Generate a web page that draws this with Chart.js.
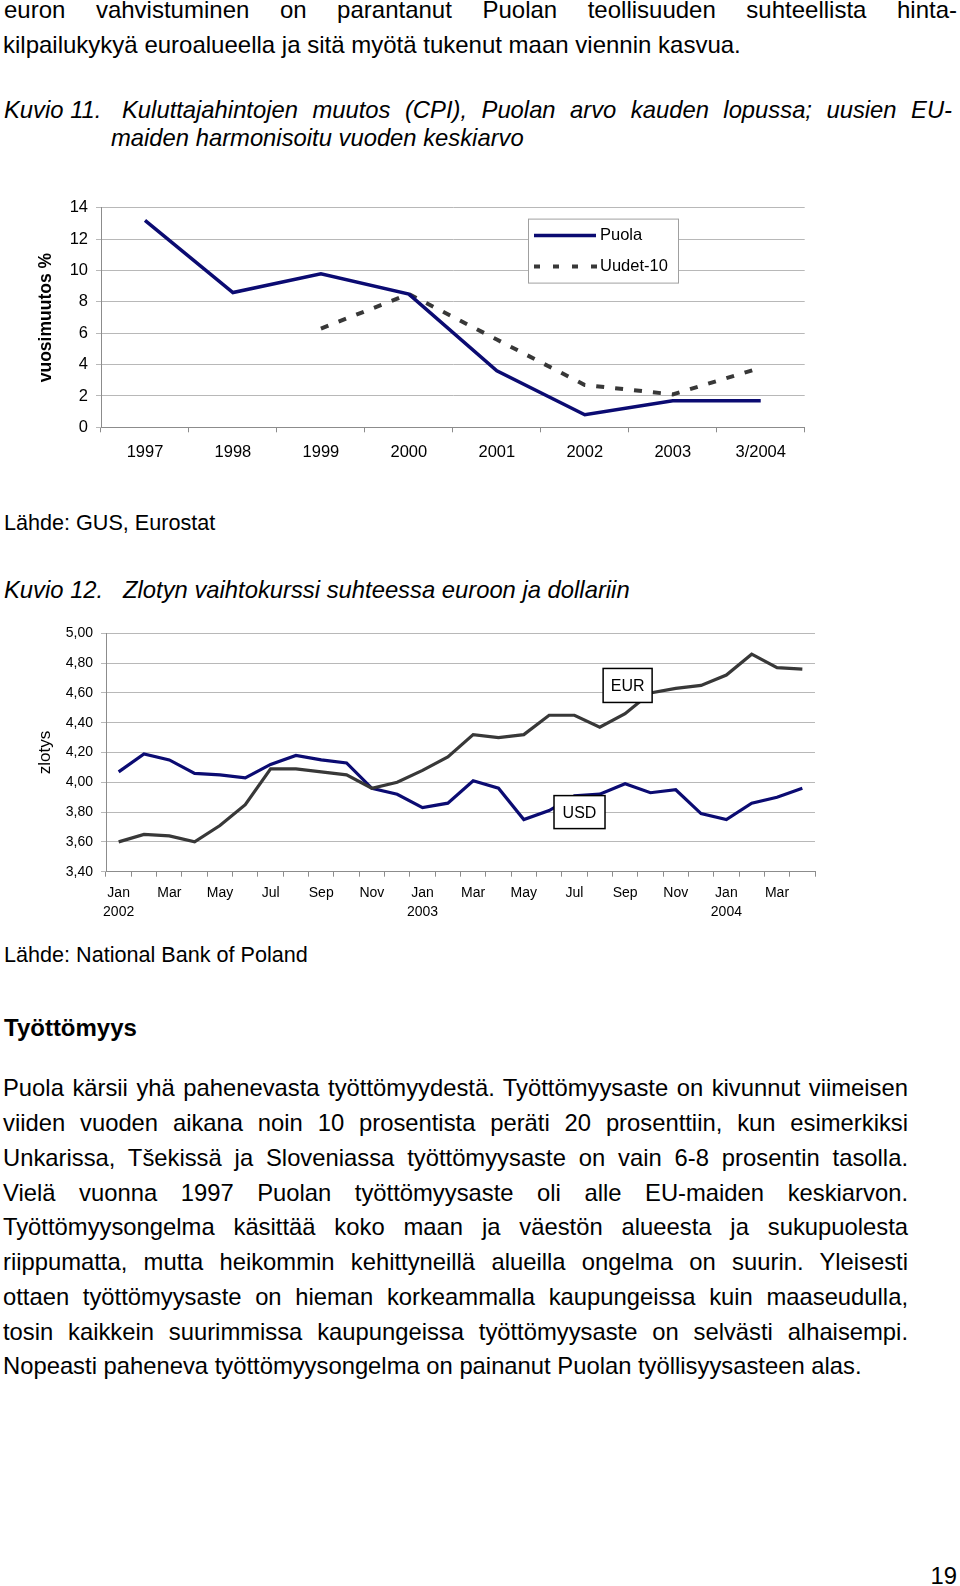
<!DOCTYPE html>
<html>
<head>
<meta charset="utf-8">
<script src="https://cdn.jsdelivr.net/npm/chart.js@4.4.1/dist/chart.umd.min.js"></script>
<style>
  html, body { margin: 0; padding: 0; background: #fff; }
  body { width: 960px; height: 1586px; position: relative; overflow: hidden;
         font-family: "Liberation Sans", Arial, sans-serif; color: #000; }
  .t { position: absolute; font-size: 23.8px; line-height: 34.7px; white-space: nowrap; }
  .i { font-style: italic; font-size: 23.8px; }
  .s { font-size: 21.6px; }
  canvas { position: absolute; left: 0; }
</style>
</head>
<body>
<div class="t j" data-w="953" style="left:4px; top:-7.3px; font-size:24px;">euron vahvistuminen on parantanut Puolan teollisuuden suhteellista hinta-</div>
<div class="t" style="left:3px; top:27.6px; font-size:24px;">kilpailukykyä euroalueella ja sitä myötä tukenut maan viennin kasvua.</div>

<div class="t i" style="left:4px; top:92.7px;">Kuvio 11.</div>
<div class="t i j" data-w="830" style="left:122px; top:92.7px;">Kuluttajahintojen muutos (CPI), Puolan arvo kauden lopussa; uusien EU-</div>
<div class="t i" style="left:111px; top:121.2px;">maiden harmonisoitu vuoden keskiarvo</div>

<canvas id="cpi" width="830" height="290" style="top:190px"></canvas>

<div class="t s" style="left:4px; top:506.2px;">Lähde: GUS, Eurostat</div>

<div class="t i" style="left:4px; top:572.7px;">Kuvio 12.</div>
<div class="t i" style="left:123px; top:572.7px;">Zlotyn vaihtokurssi suhteessa euroon ja dollariin</div>

<canvas id="fx" width="840" height="320" style="top:610px"></canvas>

<div class="t s" style="left:4px; top:937.8px;">Lähde: National Bank of Poland</div>
<div class="t" style="left:4px; top:1010.5px; font-weight:bold; font-size:24px;">Työttömyys</div>

<div class="t j" data-w="905" style="left:3px; top:1071.2px;">Puola kärsii yhä pahenevasta työttömyydestä. Työttömyysaste on kivunnut viimeisen</div>
<div class="t j" data-w="905" style="left:3px; top:1106px;">viiden vuoden aikana noin 10 prosentista peräti 20 prosenttiin, kun esimerkiksi</div>
<div class="t j" data-w="905" style="left:3px; top:1140.7px;">Unkarissa, Tšekissä ja Sloveniassa työttömyysaste on vain 6-8 prosentin tasolla.</div>
<div class="t j" data-w="905" style="left:3px; top:1175.5px;">Vielä vuonna 1997 Puolan työttömyysaste oli alle EU-maiden keskiarvon.</div>
<div class="t j" data-w="905" style="left:3px; top:1210.3px;">Työttömyysongelma käsittää koko maan ja väestön alueesta ja sukupuolesta</div>
<div class="t j" data-w="905" style="left:3px; top:1245px;">riippumatta, mutta heikommin kehittyneillä alueilla ongelma on suurin. Yleisesti</div>
<div class="t j" data-w="905" style="left:3px; top:1279.8px;">ottaen työttömyysaste on hieman korkeammalla kaupungeissa kuin maaseudulla,</div>
<div class="t j" data-w="905" style="left:3px; top:1314.6px;">tosin kaikkein suurimmissa kaupungeissa työttömyysaste on selvästi alhaisempi.</div>
<div class="t" style="left:3px; top:1349.4px;">Nopeasti paheneva työttömyysongelma on painanut Puolan työllisyysasteen alas.</div>

<div class="t" style="left:930.5px; top:1558.5px;">19</div>

<script>
// justify single lines by spreading the word gaps
document.querySelectorAll('.j').forEach(el => {
  const target = +el.dataset.w
  const gaps = el.textContent.split(' ').length - 1
  const extra = (target - el.getBoundingClientRect().width) / gaps
  el.style.wordSpacing = extra + 'px'
})

// Kuvio 11 data
const years = ['1997', '1998', '1999', '2000', '2001', '2002', '2003', '3/2004']
const puola = [13.2, 8.6, 9.8, 8.5, 3.6, 0.8, 1.7, 1.7]
const uudet10 = [null, null, 6.3, 8.5, 5.6, 2.7, 2.1, 3.8]

// Kuvio 12 data (Jan 2002 .. Apr 2004)
const monthTicks = [
  ['Jan', '2002'], '', 'Mar', '', 'May', '', 'Jul', '', 'Sep', '', 'Nov', '',
  ['Jan', '2003'], '', 'Mar', '', 'May', '', 'Jul', '', 'Sep', '', 'Nov', '',
  ['Jan', '2004'], '', 'Mar', ''
]
const usd = [4.07, 4.19, 4.15, 4.06, 4.05, 4.03, 4.12, 4.18, 4.15, 4.13, 3.96, 3.92,
             3.83, 3.86, 4.01, 3.96, 3.75, 3.81, 3.91, 3.92, 3.99, 3.93, 3.95, 3.79,
             3.75, 3.86, 3.90, 3.96]
const eur = [3.60, 3.65, 3.64, 3.60, 3.71, 3.85, 4.09, 4.09, 4.07, 4.05, 3.96, 4.00,
             4.08, 4.17, 4.32, 4.30, 4.32, 4.45, 4.45, 4.37, 4.46, 4.60, 4.63, 4.65,
             4.72, 4.86, 4.77, 4.76]
const boxLabels = [
  { text: 'EUR', at: 20.1, value: 4.65, w: 49, h: 34 },
  { text: 'USD', at: 18.2, value: 3.80, w: 51, h: 33 }
]

Chart.defaults.font.family = '"Liberation Sans", Arial, sans-serif'
Chart.defaults.color = '#000'

const navy = '#0b0b72'
const darkGray = '#383838'
const gridGray = '#b8b8b8'
const axisGray = '#8c8c8c'

// legend box drawn inside the CPI plot
const cpiLegend = {
  id: 'cpiLegend',
  afterDraw(chart) {
    const ctx = chart.ctx
    const a = chart.chartArea
    const x = a.left + 427, y = a.top + 10.7
    ctx.save()
    ctx.fillStyle = '#fff'
    ctx.strokeStyle = '#a0a0a0'
    ctx.lineWidth = 1
    ctx.fillRect(x, y, 150, 64)
    ctx.strokeRect(x + 0.5, y + 0.5, 150, 64)
    ctx.lineWidth = 3.5
    ctx.strokeStyle = navy
    ctx.beginPath(); ctx.moveTo(x + 6, y + 17); ctx.lineTo(x + 68, y + 17); ctx.stroke()
    ctx.strokeStyle = darkGray
    ctx.lineWidth = 4
    ctx.setLineDash([6, 13])
    ctx.beginPath(); ctx.moveTo(x + 6, y + 48); ctx.lineTo(x + 72, y + 48); ctx.stroke()
    ctx.setLineDash([])
    ctx.fillStyle = '#000'
    ctx.font = '16.5px "Liberation Sans", Arial'
    ctx.textBaseline = 'middle'
    ctx.fillText('Puola', x + 72, y + 17)
    ctx.fillText('Uudet-10', x + 72, y + 48)
    ctx.restore()
  }
}

new Chart(document.getElementById('cpi'), {
  type: 'line',
  data: {
    labels: years,
    datasets: [
      { label: 'Puola', data: puola, borderColor: navy, borderWidth: 3.5,
        pointRadius: 0, tension: 0 },
      { label: 'Uudet-10', data: uudet10, borderColor: darkGray, borderWidth: 4,
        borderDash: [8, 11], pointRadius: 0, tension: 0 }
    ]
  },
  options: {
    responsive: false,
    animation: false,
    layout: { padding: { top: 17.3, right: 25.3, left: 0, bottom: 0 } },
    plugins: { legend: { display: false }, tooltip: { enabled: false } },
    scales: {
      x: {
        offset: true,
        grid: { offset: true, drawOnChartArea: false, tickLength: 5, color: axisGray },
        border: { color: axisGray },
        ticks: { font: { size: 16.5 }, padding: 10.5, maxRotation: 0, autoSkip: false },
        afterFit: s => { s.height = 52.7 }
      },
      y: {
        min: 0, max: 14,
        grid: { color: gridGray, tickLength: 5 },
        border: { color: axisGray },
        ticks: { stepSize: 2, font: { size: 16.5 }, padding: 8 },
        title: { display: true, text: 'vuosimuutos %', font: { size: 17.5, weight: 'bold' },
                 padding: { top: 36, bottom: 0 } },
        afterFit: s => { s.width = 101 }
      }
    }
  },
  plugins: [cpiLegend]
})

// boxed series labels in the exchange-rate chart
const fxBoxes = {
  id: 'fxBoxes',
  afterDraw(chart) {
    const ctx = chart.ctx
    const xs = chart.scales.x, ys = chart.scales.y
    ctx.save()
    ctx.font = '16px "Liberation Sans", Arial'
    ctx.textAlign = 'center'
    ctx.textBaseline = 'middle'
    boxLabels.forEach(b => {
      const cx = xs.getPixelForValue(b.at), cy = ys.getPixelForValue(b.value)
      ctx.fillStyle = '#fff'
      ctx.fillRect(cx - b.w / 2, cy - b.h / 2, b.w, b.h)
      ctx.strokeStyle = '#000'
      ctx.lineWidth = 1.5
      ctx.strokeRect(cx - b.w / 2, cy - b.h / 2, b.w, b.h)
      ctx.fillStyle = '#000'
      ctx.fillText(b.text, cx, cy + 1)
    })
    ctx.restore()
  }
}

new Chart(document.getElementById('fx'), {
  type: 'line',
  data: {
    labels: monthTicks,
    datasets: [
      { label: 'EUR', data: eur, borderColor: darkGray, borderWidth: 3.2,
        pointRadius: 0, tension: 0 },
      { label: 'USD', data: usd, borderColor: navy, borderWidth: 3.2,
        pointRadius: 0, tension: 0 }
    ]
  },
  options: {
    responsive: false,
    animation: false,
    layout: { padding: { top: 23.3, right: 25, left: 0, bottom: 0 } },
    plugins: { legend: { display: false }, tooltip: { enabled: false } },
    scales: {
      x: {
        offset: true,
        grid: { offset: true, drawOnChartArea: false, tickLength: 5, color: axisGray },
        border: { color: axisGray },
        ticks: { font: { size: 14, lineHeight: 1.4 }, padding: 6.2, maxRotation: 0, autoSkip: false },
        afterFit: s => { s.height = 58.3 }
      },
      y: {
        min: 3.4, max: 5.0,
        grid: { color: gridGray, tickLength: 5 },
        border: { color: axisGray },
        ticks: { stepSize: 0.2, font: { size: 14 }, padding: 8,
                 callback: v => v.toFixed(2).replace('.', ',') },
        title: { display: true, text: 'zlotys', font: { size: 17 },
                 padding: { top: 34.8, bottom: 0 } },
        afterFit: s => { s.width = 106 }
      }
    }
  },
  plugins: [fxBoxes]
})
</script>
</body>
</html>
